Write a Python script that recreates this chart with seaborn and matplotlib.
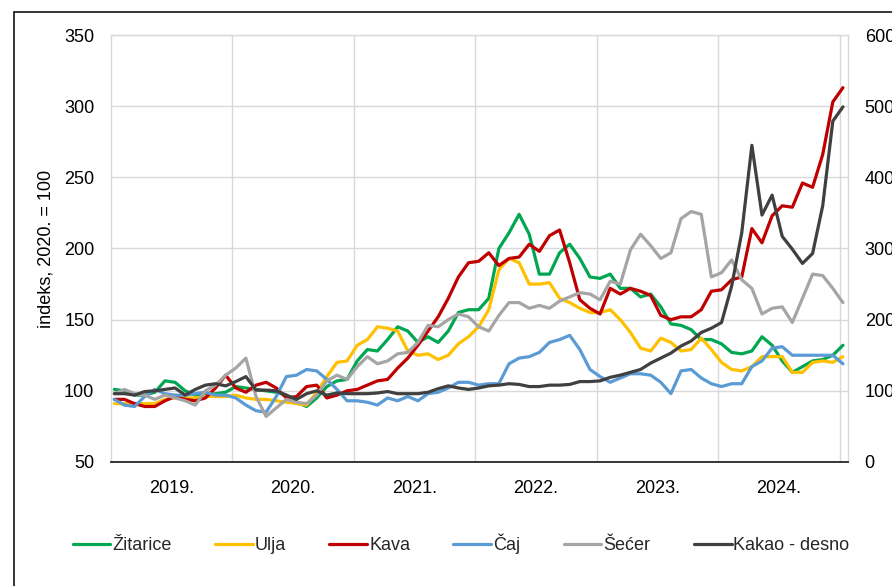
import numpy as np
import pandas as pd
import matplotlib
matplotlib.use("Agg")
import matplotlib.pyplot as plt
import seaborn as sns
from matplotlib.lines import Line2D

# ---- data (monthly index, Jan 2019 .. Jan 2025) ----
year_labels = ["2019.", "2020.", "2021.", "2022.", "2023.", "2024."]

zitarice = [101, 100, 97, 97, 99, 107, 106, 100, 97, 97, 98, 99, 103, 102, 101, 100, 99, 97, 92, 89, 95, 103, 107,
            108, 121, 129, 128, 136, 145, 142, 134, 138, 134, 142, 155, 157, 157, 165, 200, 211, 224, 210, 182, 182, 197, 203, 193, 180, 179,
            182, 172, 172, 166, 168, 159, 147, 146, 143, 136, 136, 133, 127, 126, 128, 138, 132, 121, 113, 117, 121, 122, 125, 132]
ulja = [91, 91, 91, 91, 91, 94, 95, 95, 95, 96, 96, 96, 97, 95, 94, 94, 93, 92, 91, 90, 99, 110, 120,
        121, 132, 136, 145, 144, 142, 128, 125, 126, 122, 125, 133, 138, 145, 157, 185, 193, 190, 175, 175, 176, 165, 162, 158, 155, 155,
        157, 150, 141, 130, 128, 137, 134, 128, 129, 137, 129, 120, 115, 114, 117, 124, 124, 124, 113, 113, 120, 121, 120, 124]
kava = [94, 94, 91, 89, 89, 93, 96, 94, 93, 95, 102, 111, 102, 99, 104, 106, 102, 95, 96, 103, 104, 95, 97,
        100, 101, 104, 107, 108, 116, 123, 132, 142, 152, 165, 180, 190, 191, 197, 188, 193, 194, 203, 198, 209, 213, 190, 164, 158, 154,
        172, 168, 172, 170, 167, 153, 150, 152, 152, 157, 170, 171, 178, 180, 214, 204, 223, 230, 229, 246, 243, 266, 303, 313]
caj = [94, 90, 89, 96, 101, 98, 97, 97, 98, 99, 97, 97, 95, 90, 86, 85, 96, 110, 111, 115, 114, 108, 101,
       93, 93, 92, 90, 95, 93, 96, 93, 98, 99, 102, 106, 106, 104, 105, 105, 119, 123, 124, 127, 134, 136, 139, 129, 115, 110,
       106, 109, 112, 112, 111, 106, 98, 114, 115, 109, 105, 103, 105, 105, 117, 121, 130, 131, 125, 125, 125, 125, 125, 119]
secer = [98, 101, 98, 97, 94, 97, 95, 93, 90, 100, 104, 111, 116, 123, 96, 82, 88, 94, 92, 91, 97, 107, 111,
         108, 117, 124, 119, 121, 126, 127, 134, 146, 145, 150, 154, 152, 145, 142, 153, 162, 162, 158, 160, 158, 163, 166, 169, 168, 164,
         177, 175, 199, 210, 202, 193, 197, 221, 226, 224, 180, 183, 192, 178, 172, 154, 158, 159, 148, 165, 182, 181, 172, 162]
kakao = [96, 96, 94, 99, 100, 102, 104, 94, 102, 108, 110, 107, 113, 120, 101, 101, 100, 94, 88, 96, 100, 94, 97,
         96, 96, 96, 97, 99, 96, 96, 96, 98, 103, 107, 104, 102, 104, 107, 108, 110, 109, 106, 106, 108, 108, 109, 113, 113, 114,
         119, 122, 126, 130, 139, 146, 153, 163, 170, 182, 188, 196, 247, 322, 445, 347, 375, 317, 299, 279, 293, 360, 479, 499]

names = ["Žitarice", "Ulja", "Kava", "Čaj", "Šećer"]
kakao_name = "Kakao - desno"
colors = {"Žitarice": "#00A651", "Ulja": "#FFC000", "Kava": "#C00000",
          "Čaj": "#5B9BD5", "Šećer": "#A5A5A5", kakao_name: "#404040"}

months = np.arange(len(zitarice))
df = pd.DataFrame({"month": months, "Žitarice": zitarice, "Ulja": ulja,
                   "Kava": kava, "Čaj": caj, "Šećer": secer})
long = df.melt(id_vars="month", var_name="serija", value_name="indeks")
dk = pd.DataFrame({"month": months, "indeks": kakao})

sns.set_theme(style="white")
plt.rcParams['font.family'] = ['Liberation Sans', 'DejaVu Sans']

W, H = 892, 586
fig = plt.figure(figsize=(W / 100, H / 100), dpi=100)
L, R, T, B = 111, 848, 35, 462
ax = fig.add_axes([L / W, 1 - B / H, (R - L) / W, (B - T) / H])

lw = 2.3
sns.lineplot(data=long, x="month", y="indeks", hue="serija", hue_order=names,
             palette=colors, linewidth=lw, ax=ax, legend=False)
ax2 = ax.twinx()
sns.lineplot(data=dk, x="month", y="indeks", color=colors[kakao_name],
             linewidth=lw, ax=ax2, legend=False)

# x axis: months, year boundaries as gridlines
x0 = -0.33
ax.set_xlim(x0, 72.5)
bounds = [x0 + 12 * j for j in range(1, 7)]
centers = [x0 + 6 + 12 * j for j in range(6)]
ax.set_xticks(centers)
ax.set_xticklabels(year_labels)
ax.set_xticks(bounds, minor=True)
ax.grid(False)
ax.grid(True, which="minor", axis="x", color="#D9D9D9", linewidth=1.0)
ax.grid(True, which="major", axis="y", color="#D9D9D9", linewidth=1.0)
ax.set_axisbelow(True)

ax.set_ylim(50, 350)
ax.set_yticks(range(50, 351, 50))
ax2.set_ylim(0, 600)
ax2.set_yticks(range(0, 601, 100))

ax.set_xlabel("")
ax.set_ylabel("indeks, 2020. = 100", fontsize=13, color="black", labelpad=7)
ax2.set_ylabel("")

ax.tick_params(axis="both", which="both", length=0, labelsize=13, colors="black")
ax.tick_params(axis="y", pad=12)
ax.tick_params(axis="x", pad=13)
ax2.tick_params(axis="y", length=0, labelsize=13, colors="black", pad=12)

for s in ["left", "top", "right"]:
    ax.spines[s].set_color("#D9D9D9")
    ax.spines[s].set_linewidth(1.0)
ax.spines["bottom"].set_color("#262626")
ax.spines["bottom"].set_linewidth(1.3)
for s in ax2.spines.values():
    s.set_visible(False)

# legend
handles = [Line2D([], [], color=colors[n], linewidth=lw) for n in names + [kakao_name]]
fig.legend(handles, names + [kakao_name], loc="center",
           bbox_to_anchor=(461 / W, 1 - 544 / H), ncol=6, frameon=False,
           fontsize=13, handlelength=2.1, handletextpad=0.1, columnspacing=2.4)

# chart-area border (left and top edges visible)
fig.add_artist(Line2D([13.5 / W, 13.5 / W], [0, 1 - 12 / H], transform=fig.transFigure,
                      color="black", linewidth=1.1))
fig.add_artist(Line2D([13.5 / W, 1], [1 - 12 / H, 1 - 12 / H], transform=fig.transFigure,
                      color="black", linewidth=1.1))

fig.savefig("out.png", dpi=100)
